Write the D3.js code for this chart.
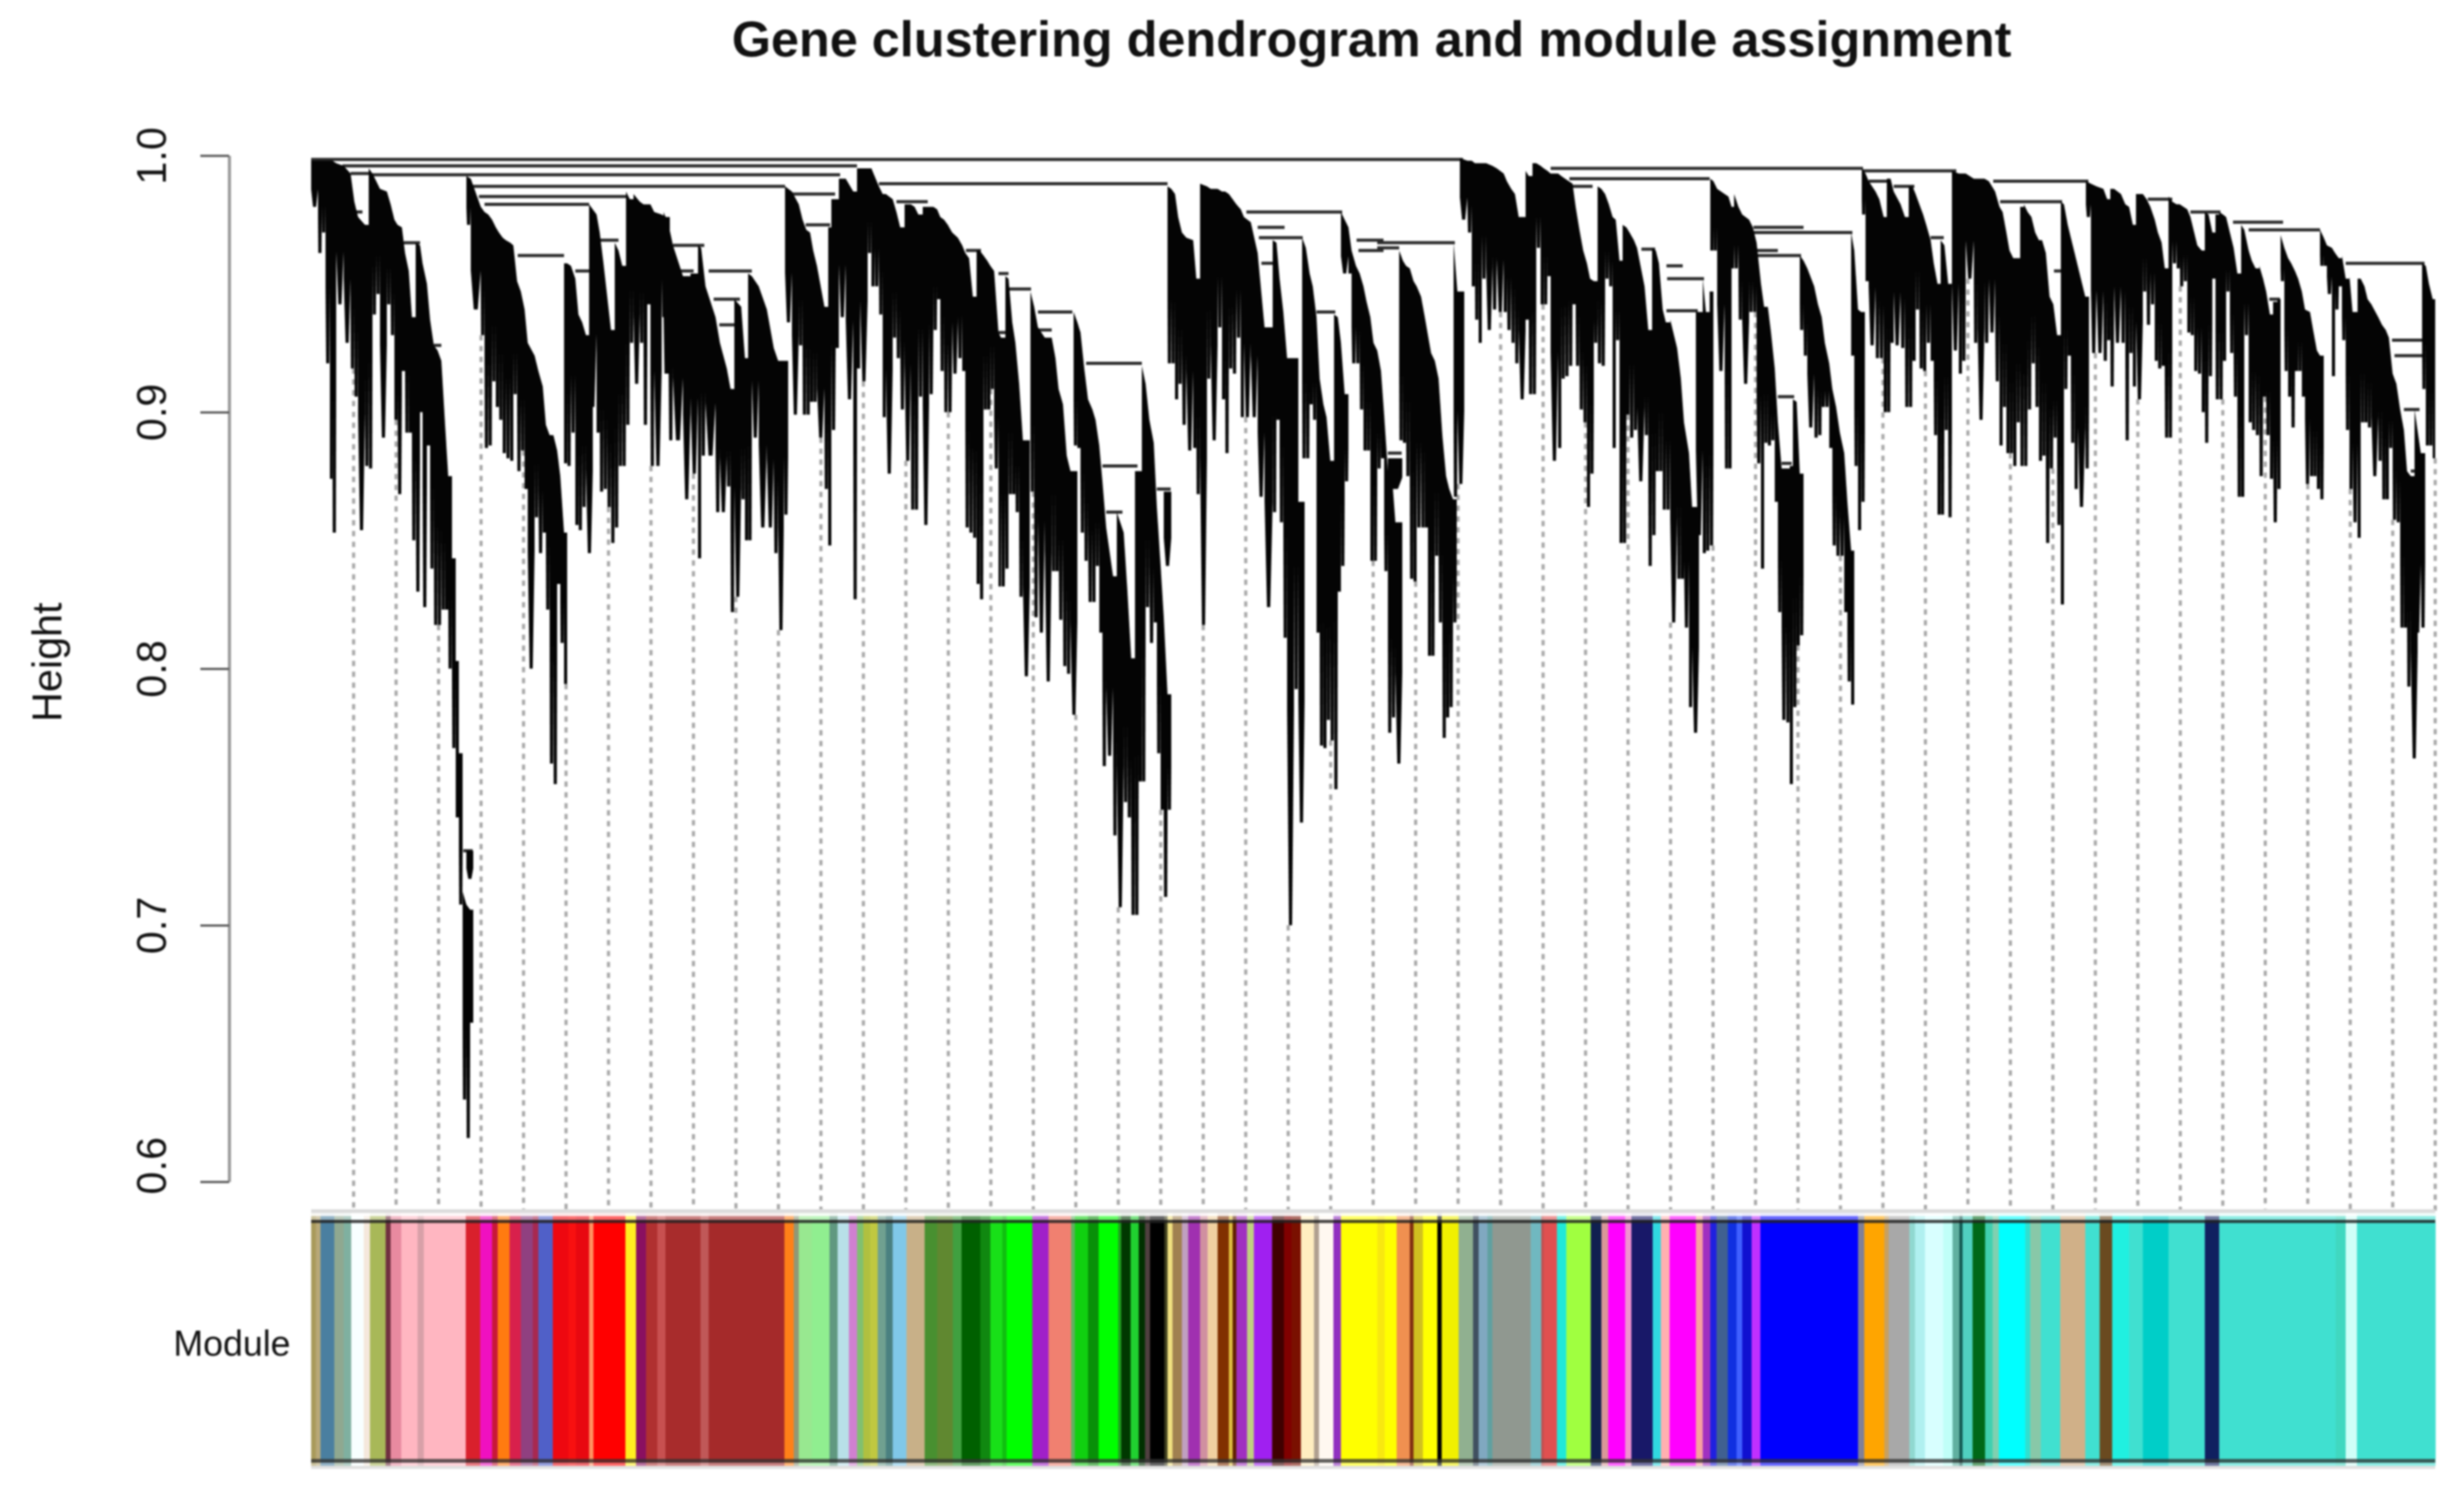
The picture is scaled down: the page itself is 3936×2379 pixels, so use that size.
<!DOCTYPE html>
<html><head><meta charset="utf-8">
<script src="https://cdn.jsdelivr.net/npm/d3@7/dist/d3.min.js"></script>
<style>html,body{margin:0;background:#fff}svg{display:block;filter:blur(1.6px)}text{font-family:"Liberation Sans",Arial,sans-serif;fill:#111}</style>
</head><body><svg id="c" width="3936" height="2379"></svg>
<script>
// Each clade row: [gene rank where the column starts, top height, bottom height]; a one-item row closes the clade.
const cladeA=[[0,.998,.980],[11,.998,.962],[17,.998,.970],[23,.998,.919],[30,.998,.874],[34,.998,.853],[40,.997,.942],[52,.996,.927],[63,.993,.917],[69,.982,.906],[75,.976,.854],[86,.973,.879],[92,.995,.878],[98,.993,.938],[104,.990,.946],[110,.987,.890],[121,.986,.942],[127,.981,.930],[133,.975,.897],[138,.973,.868],[145,.972,.916],[150,.962,.892],[156,.955,.892],[161,.937,.850],[167,.966,.830],[174,.965,.900],[178,.958,.824],[185,.950,.887],[190,.936,.839],[196,.926,.817],[202,.924,.817],[208,.920,.823],[214,.895,.823],[219,.875,.800],[225,.843,.769],[231,.803,.742],[236,.767,.708],[242,.713,.632],[248,.708,.617],[254,.706,.662],[259]];
const cladeA2=[[248,.729,.718],[259]];
const cladeB=[[248,.992,.973],[255,.991,.940],[271,.980,.930],[277,.978,.886],[283,.977,.887],[289,.975,.912],[295,.972,.902],[300,.970,.897],[306,.968,.884],[311,.967,.882],[318,.966,.881],[323,.965,.907],[329,.951,.877],[335,.947,.885],[341,.940,.870],[346,.927,.800],[357,.922,.859],[363,.916,.845],[370,.910,.853],[375,.895,.823],[381,.891,.763],[387,.891,.755],[393,.885,.833],[398,.875,.810],[404,.853,.794],[409]];
const cladeC=[[404,.958,.880],[409,.958,.879],[415,.957,.892],[422,.952,.856],[427,.938,.854],[433,.935,.863],[439,.930,.845],[450]];
const cladeD=[[444,.981,.902],[456,.977,.892],[461,.970,.869],[467,.958,.870],[473,.945,.863],[479,.932,.849],[485,.966,.855],[491,.963,.879],[497,.957,.879],[503,.986,.895],[509,.983,.927],[515,.985,.911],[525,.982,.927],[531,.981,.895],[537,.981,.942],[542,.981,.879],[548,.978,.879],[560,.977,.937],[567,.976,.915],[573]];
const cladeF=[[563,.978,.915],[571,.973,.889],[578,.965,.889],[594,.953,.866],[606,.954,.876],[618,.965,.843],[623,.964,.883],[630,.949,.883],[646,.937,.861],[653,.927,.861],[664,.917,.871],[670,.909,.822],[676,.944,.828],[687,.941,.866],[693,.921,.850],[698,.954,.850],[704,.953,.890],[715,.949,.855],[728,.940,.855],[739,.925,.845],[746,.920,.815],[755,.920,.860],[762]];
const cladeE=[[757,.988,.935],[768,.986,.899],[779,.981,.926],[785,.975,.899],[791,.971,.899],[797,.970,.904],[802,.963,.904],[808,.957,.890],[820,.941,.870],[826,.972,.848],[831,.983,.893],[838,.983,.925],[843,.991,.937],[854,.991,.905],[866,.986,.827],[872,.995,.917],[877,.995,.912],[889,.995,.962],[895,.995,.949],[900,.992,.949],[907,.988,.938],[913,.985,.898],[918,.985,.876],[929,.983,.929],[935,.978,.921],[941,.972,.901],[948,.981,.881],[958,.981,.862],[964,.980,.862],[970,.977,.906],[977,.980,.856],[987,.980,.907],[994,.980,.932],[1000,.979,.944],[1005,.976,.916],[1011,.975,.900],[1017,.973,.900],[1024,.970,.915],[1033,.968,.921],[1040,.965,.916],[1045,.962,.855],[1051,.960,.853],[1057,.945,.851],[1063,.963,.833],[1068,.963,.827],[1074,.961,.901],[1080,.959,.901],[1085,.957,.909],[1091,.955,.878],[1098,.931,.832],[1102,.929,.832],[1109,.953,.839],[1114,.952,.868],[1120,.935,.868],[1125,.927,.861],[1131,.911,.828],[1137,.889,.797],[1148]];
const cladeK=[[1149,.947,.869],[1155,.941,.820],[1161,.933,.814],[1172,.929,.795],[1183,.929,.838],[1189,.921,.838],[1194,.909,.819],[1201,.903,.801],[1207,.883,.798],[1213,.877,.782],[1224]];
const cladeG=[[1218,.939,.887],[1224,.935,.886],[1229,.931,.853],[1235,.917,.842],[1241,.905,.826],[1248,.901,.826],[1253,.897,.840],[1259,.887,.814],[1264,.873,.762],[1270,.855,.766],[1281,.836,.735],[1287,.861,.707],[1298,.853,.748],[1304,.830,.742],[1310,.804,.704],[1316,.877,.704],[1322,.877,.756],[1327,.918,.756],[1333,.911,.824],[1339,.897,.810],[1346,.888,.818],[1351,.863,.767],[1357,.840,.745],[1362,.820,.711],[1368,.790,.745],[1374]];
const cladeG2=[[1362,.869,.840],[1374]];
const cladeH=[[1368,.988,.919],[1374,.987,.919],[1380,.985,.905],[1385,.976,.911],[1391,.970,.895],[1398,.968,.885],[1409,.967,.886],[1414,.952,.868],[1420,.989,.817],[1431,.988,.913],[1437,.987,.889],[1448,.987,.933],[1455,.986,.905],[1460,.986,.884],[1466,.985,.917],[1472,.983,.915],[1478,.981,.929],[1485,.979,.898],[1490,.976,.898],[1501,.974,.898],[1512,.962,.867],[1523,.933,.824],[1536,.967,.861],[1542,.966,.897],[1547,.952,.857],[1553,.939,.812],[1559,.921,.700],[1570,.921,.792],[1577,.865,.740],[1587]];
const cladeI=[[1583,.968,.882],[1589,.964,.882],[1595,.954,.903],[1600,.949,.897],[1606,.937,.814],[1611,.913,.770],[1617,.903,.769],[1622,.898,.780],[1628,.881,.772],[1634,.938,.753],[1640,.937,.830],[1645,.927,.840],[1651,.907,.873],[1657]];
const cladeJ=[[1645,.978,.954],[1657,.972,.954],[1662,.963,.919],[1669,.957,.919],[1675,.954,.901],[1681,.949,.885],[1686,.943,.885],[1692,.937,.842],[1697,.927,.842],[1703,.924,.878],[1709,.916,.882],[1714,.899,.838],[1720,.877,.775],[1726,.877,.781],[1732,.857,.763],[1743]];
const cladeJ2=[[1720,.882,.870],[1743]];
const cladeK2=[[1738,.963,.889],[1744,.959,.888],[1749,.957,.875],[1755,.956,.835],[1761,.951,.834],[1766,.949,.855],[1773,.945,.855],[1779,.937,.855],[1784,.930,.805],[1789,.923,.805],[1795,.920,.844],[1801,.913,.818],[1807,.891,.773],[1813,.875,.781],[1818,.870,.785],[1824,.866,.818],[1830]];
const cladeL=[[1825,.966,.867],[1831,.947,.872],[1842]];
const cladeM=[[1835,.999,.975],[1847,.998,.970],[1854,.998,.949],[1859,.997,.936],[1865,.997,.927],[1870,.997,.952],[1877,.997,.932],[1887,.996,.940],[1894,.995,.939],[1905,.993,.939],[1910,.990,.932],[1917,.987,.927],[1923,.985,.919],[1929,.976,.905],[1940,.994,.936],[1945,.992,.907],[1951,.997,.907],[1957,.997,.964],[1964,.996,.942],[1969,.995,.942],[1975,.994,.953],[1980,.993,.881],[1992,.993,.886],[1997,.992,.913],[2003,.991,.914],[2009,.990,.918],[2015,.989,.942],[2020,.980,.918],[2026,.971,.901],[2032,.963,.896],[2038,.958,.863],[2043,.952,.876],[2049,.951,.927],[2055,.988,.919],[2061,.987,.918],[2067,.985,.952],[2073,.981,.949],[2079,.976,.886],[2084,.975,.928],[2090,.959,.849],[2095,.973,.849],[2101,.972,.899],[2106,.970,.890],[2113,.967,.893],[2118,.964,.873],[2130,.949,.891],[2136,.932,.840],[2142,.964,.852],[2148,.963,.877],[2153,.958,.877],[2159,.940,.862],[2164,.935,.862],[2171,.936,.818],[2182,.925,.835],[2188,.913,.835],[2193,.896,.816],[2201,.884,.785],[2206,.863,.775],[2217]];
const cladeN=[[2212,.939,.852],[2223,.952,.845],[2228,.939,.846],[2234,.947,.848],[2240]];
const cladeO=[[2235,.991,.963],[2240,.990,.963],[2246,.987,.916],[2258,.985,.878],[2264,.984,.878],[2269,.980,.956],[2273,.985,.956],[2280,.980,.936],[2286,.977,.911],[2297,.975,.939],[2303,.972,.939],[2309,.966,.880],[2316,.950,.839],[2321,.941,.888],[2327,.941,.887],[2332,.931,.889],[2338,.917,.865],[2343,.896,.822],[2349,.878,.780],[2356,.878,.779],[2362,.879,.755],[2367,.905,.785],[2373,.904,.809],[2378,.876,.813],[2384]];
const cladeQ=[[2378,.961,.932],[2384,.959,.922],[2390,.956,.894],[2401,.949,.890],[2407,.942,.891],[2413,.937,.902],[2418,.927,.902],[2425,.919,.886],[2430,.909,.848],[2436,.902,.844],[2442,.892,.844],[2449,.884,.822],[2454,.865,.795],[2460,.846,.786],[2465]];
const cladeR=[[2460,.970,.922],[2465,.963,.879],[2471,.940,.854],[2476,.939,.865],[2482]];
const cladeS=[[2477,.995,.977],[2483,.993,.951],[2488,.990,.926],[2499,.986,.921],[2505,.983,.921],[2512,.976,.900],[2517,.991,.900],[2523,.991,.927],[2528,.986,.926],[2539,.981,.925],[2546,.976,.902],[2552,.988,.902],[2558,.988,.920],[2563,.985,.940],[2569,.981,.917],[2575,.977,.916],[2580,.973,.927],[2587,.967,.920],[2592,.958,.891],[2598,.950,.860],[2603,.967,.860],[2609,.965,.893],[2615,.950,.859],[2621,.994,.924],[2632,.993,.915],[2637,.993,.920],[2643,.993,.952],[2656,.991,.927],[2662,.991,.897],[2673,.991,.927],[2680,.990,.931],[2690,.986,.912],[2697,.980,.887],[2702,.978,.902],[2708,.970,.884],[2713,.963,.884],[2719,.960,.879],[2724,.960,.896],[2730,.980,.879],[2736,.981,.879],[2742,.978,.901],[2748,.976,.919],[2754,.970,.902],[2760,.967,.881],[2765,.967,.883],[2771,.962,.849],[2777,.945,.878],[2783,.942,.890],[2789,.930,.856],[2795,.982,.825],[2800,.981,.909],[2806,.973,.922],[2811,.968,.888],[2817,.962,.870],[2822,.957,.863],[2834,.945,.878],[2840]];
const cladeT=[[2835,.990,.976],[2843,.989,.923],[2852,.988,.923],[2863,.987,.920],[2869,.983,.928],[2874,.987,.910],[2880,.987,.927],[2891,.985,.927],[2898,.981,.889],[2904,.980,.923],[2910,.973,.910],[2915,.985,.905],[2926,.985,.947],[2932,.983,.934],[2938,.980,.942],[2945,.975,.920],[2950,.970,.917],[2956,.966,.918],[2961,.956,.890],[2967,.984,.890],[2973,.982,.958],[2980,.981,.956],[2985,.981,.949],[2991,.980,.951],[2997,.979,.931],[3002,.976,.930],[3008,.970,.916],[3013,.965,.915],[3020,.963,.900],[3025,.978,.888],[3031,.977,.914],[3037,.970,.952],[3042,.977,.905],[3048,.978,.905],[3054,.977,.920],[3059,.976,.947],[3065,.970,.923],[3071,.964,.906],[3077,.954,.867],[3083,.973,.867],[3088,.971,.930],[3095,.963,.896],[3100,.959,.893],[3106,.956,.891],[3112,.957,.875],[3118,.952,.906],[3123,.947,.891],[3129,.938,.874],[3134,.943,.857],[3141,.944,.870],[3146]];
const cladeU=[[3146,.969,.951],[3152,.964,.916],[3158,.960,.906],[3163,.958,.894],[3169,.955,.916],[3174,.952,.916],[3180,.947,.906],[3185,.940,.872],[3193,.939,.875],[3198,.932,.875],[3204,.924,.870],[3209,.922,.866],[3215]];
const cladeV=[[3209,.971,.957],[3215,.968,.957],[3220,.965,.946],[3228,.964,.914],[3233,.962,.940],[3239,.960,.949],[3244,.961,.928],[3250,.952,.893],[3256,.953,.870],[3261,.939,.857],[3269,.952,.851],[3274,.952,.896],[3280,.949,.896],[3285,.944,.894],[3291,.942,.875],[3302,.937,.881],[3308,.934,.866],[3314,.932,.866],[3319,.929,.886],[3325,.915,.858],[3331,.911,.857],[3337,.901,.816],[3343,.893,.816],[3348,.877,.793],[3354,.875,.765],[3365]];
const cladeV2=[[3360,.901,.814],[3370,.884,.816],[3377]];
const cladeW=[[3372,.958,.909],[3378,.957,.887],[3383,.950,.887],[3389,.944,.882],[3393]];
const clades=[cladeA,cladeA2,cladeB,cladeC,cladeD,cladeF,cladeE,cladeK,cladeG,cladeG2,cladeH,cladeI,cladeJ,cladeJ2,cladeK2,cladeL,cladeM,cladeN,cladeO,cladeQ,cladeR,cladeS,cladeT,cladeU,cladeV,cladeV2,cladeW];

// Merges: [left rank, right rank, height]
const merges=[[0,1840,.9985],[50,872,.996],[63,92,.993],[98,845,.9925],[255,757,.988],[268,503,.984],[277,444,.981],[330,404,.961],[461,491,.967],[148,174,.966],[196,208,.926],[69,82,.978],[422,444,.955],[243,258,.729],[578,628,.965],[635,704,.955],[589,611,.955],[643,685,.944],[652,681,.934],[790,829,.973],[768,837,.985],[1046,1070,.963],[935,985,.982],[1098,1114,.954],[1114,1150,.948],[1098,1109,.931],[907,1368,.989],[1161,1216,.939],[1238,1327,.919],[1264,1320,.879],[1270,1296,.861],[1351,1373,.870],[1161,1183,.932],[1494,1647,.978],[1514,1584,.968],[1512,1555,.972],[1518,1536,.958],[1606,1636,.939],[1670,1713,.967],[1673,1713,.963],[1703,1827,.966],[1703,1738,.964],[1720,1742,.884],[1980,2479,.995],[2010,2234,.991],[2014,2047,.988],[2166,2225,.952],[2165,2191,.957],[2165,2215,.9395],[2125,2147,.9635],[2477,2628,.994],[2687,2839,.990],[2304,2462,.970],[2304,2384,.972],[2310,2380,.961],[2310,2343,.963],[2343,2369,.906],[2349,2365,.880],[2698,2797,.982],[2587,2608,.968],[2488,2517,.990],[2528,2561,.988],[2784,2800,.955],[2934,2973,.983],[3002,3050,.978],[3070,3150,.974],[3095,3209,.971],[3250,3376,.958],[3324,3376,.928],[3328,3376,.922],[3343,3368,.901],[3354,3365,.877],[3128,3145,.944]];

// Module colour strip: rank where each band starts, and the band's colour
const moduleStarts=[0,7.5,15,37,52,64,84,94,119,127,144,170,180,247,270,289,298,317,335,354,363,386,411,423,444,451,502,519,535,553,566,622,635,756,771,779,800,828,841,859,872,882,893,905,918,929,951,980,1000,1025,1039,1069,1085,1104,1111,1152,1178,1214,1220,1241,1258,1289,1294,1309,1322,1332,1340,1363,1368,1376,1391,1401,1420,1432,1448,1466,1472,1478,1495,1506,1535,1554,1566,1581,1602,1610,1633,1645,1703,1715,1734,1755,1761,1776,1799,1806,1833,1856,1865,1879,1887,1948,1965,1969,1990,2005,2044,2061,2072,2099,2109,2143,2156,2170,2212,2223,2235,2245,2263,2277,2286,2301,2315,2471,2481,2513,2520,2553,2562,2578,2607,2622,2633,2638,2654,2674,2686,2696,2738,2746,2763,2794,2834,2857,2877,2904,2926,2967,3025,3048,3234,3250,3268];
const moduleColors=["#a89a5a","#b8a878","#4a7fa0","#8fa890","#7fb0a0","#f8ffff","#f5e8dc","#a8b858","#703040","#e88aa0","#ffb6c1","#d8a0a8","#ffb6c1","#d9202c","#f010c0","#c81838","#ff7b10","#d8204c","#904080","#a82850","#5060c8","#ee0810","#f81010","#e80810","#ff9060","#ff0000","#ffee20","#8a1060","#b03030","#c85050","#a82c2c","#c05858","#a52a2a","#ff8018","#909878","#98e890","#90ee90","#609880","#b8e0e8","#d080d0","#80c070","#b0c040","#c0c840","#70a090","#4a8080","#80c8e8","#c8b088","#489030","#608830","#40a040","#006000","#108810","#18e018","#10c010","#00ff00","#a020c8","#f08070","#60b060","#10d010","#089008","#00ff00","#20a020","#003800","#20d030","#003000","#504040","#000000","#404020","#f0e080","#a08050","#c0a0c0","#a030b0","#d090a0","#f0d0a0","#803000","#e0c040","#602000","#a030c0","#c0d080","#a020f0","#400000","#800000","#7a1000","#ffeec0","#b0a090","#fff8f0","#9030c0","#ffff00","#f8e810","#ffff00","#f09050","#803010","#d0c020","#ffff00","#000000","#f0f000","#90b090","#405060","#80a8c0","#60a0a0","#909890","#70b8c0","#c05050","#e05050","#20e8d8","#a0ff40","#102050","#d89898","#ff00ff","#f090d0","#181868","#30d8e0","#ffb0b0","#ff00ff","#f8a0a0","#a030c0","#2020e0","#406090","#1030e0","#4060ff","#1010d0","#c030ff","#0000ff","#808098","#ffa500","#c8a060","#a8a8a8","#90d8d0","#b0f0f0","#d8ffff","#c0fff8","#60b0a0","#105850","#50d0c0","#006818","#40d0b0","#80d0b0","#00ffff","#30e0d0","#88c8a8","#40e0d0","#d0b088","#40e0d0","#6a4a20","#20f0e0","#40e0d0","#00cec8","#40e0d0","#102060","#40e0d0","#40d8c0","#d0fff8","#40e0d0"];

const heightTicks=[1.0,0.9,0.8,0.7,0.6];
const guideCount=50;
const geneCount=3393;
const titleText="Gene clustering dendrogram and module assignment";

const svg=d3.select("#c");
const x=d3.scaleLinear().domain([0,geneCount]).range([497,3890]);
const y=d3.scaleLinear().domain([1,0.6]).range([248.5,1888]);

// rows -> columns; a column's top runs down to the next row's top inside a descending wedge
const columns=clades.flatMap(c=>c.slice(0,-1).map((r,i)=>{
  const n=c[i+1];
  const nextTop=(n.length>1&&n[1]<r[1]&&r[1]-n[1]<.03)?n[1]:r[1];
  return {x0:r[0],x1:n[0],top:r[1],topR:nextTop,bottom:r[2]};
}));

// tooth shape: full width down most of the column, then tapering to a narrow tip
const tooth=d=>{
  const a=x(d.x0),b=x(d.x1),w=b-a,m=(a+b)/2,t=y(d.top),tr=y(d.topR),bt=y(d.bottom);
  const sh=Math.max(tr,t)+(bt-Math.max(tr,t))*0.62, tip=Math.min(w,Math.max(w*0.4,5))/2;
  return d3.line()([[a,t],[b,tr],[b,sh],[m+tip,bt],[m-tip,bt],[a,sh]])+"Z";
};

// hanging guides: each starts at the lowest column over its rank
const guideRanks=d3.range(1,guideCount+1).map(i=>i*geneCount/guideCount);
const guides=guideRanks.map(r=>{
  const hit=columns.filter(c=>c.x0<=r&&r<=c.x1);
  return {r,start:hit.length?d3.min(hit,c=>c.bottom):1};
});
svg.append("g").selectAll("line").data(guides).join("line")
  .attr("x1",d=>x(d.r)).attr("x2",d=>x(d.r))
  .attr("y1",d=>y(d.start)).attr("y2",1936)
  .attr("stroke","#a8a8a8").attr("stroke-width",5).attr("stroke-dasharray","8.5 8.8");

svg.append("g").selectAll("line").data(merges).join("line")
  .attr("x1",d=>x(d[0])).attr("x2",d=>x(d[1]))
  .attr("y1",d=>y(d[2])).attr("y2",d=>y(d[2]))
  .attr("stroke","#2a2a2a").attr("stroke-width",5);

svg.append("g").attr("fill","#040404").selectAll("path").data(columns).join("path").attr("d",tooth);

// axis
const ax=svg.append("g").attr("transform","translate(366,0)")
  .call(d3.axisLeft(y).tickValues(heightTicks).tickFormat(d3.format(".1f")).tickSize(46).tickSizeOuter(0));
ax.select(".domain").attr("stroke","#9a9a9a").attr("stroke-width",5);
ax.selectAll(".tick line").attr("stroke","#555").attr("stroke-width",3.5);
ax.selectAll(".tick text").attr("x",0).attr("dy",0).attr("text-anchor","middle")
  .attr("transform",d=>`translate(-101,${d===0.6?-26:0}) rotate(-90)`).attr("font-size",66)
  .style("font-family",'"Liberation Sans",Arial,sans-serif').attr("fill","#222");

svg.append("text").attr("transform","translate(98,1058) rotate(-90)").attr("text-anchor","middle").attr("font-size",66).text("Height");
svg.append("text").attr("x",464).attr("y",2166).attr("text-anchor","end").attr("font-size",57).text("Module");
svg.append("text").attr("x",2191).attr("y",90).attr("text-anchor","middle").attr("font-size",80.5).attr("font-weight","bold").text(titleText);

// module strip
const bands=moduleStarts.map((s,i)=>({s,e:i+1<moduleStarts.length?moduleStarts[i+1]:geneCount,c:moduleColors[i]}));
const strip=svg.append("g");
const layer=(y0,y1,op)=>strip.append("g").attr("opacity",op).selectAll("rect").data(bands).join("rect")
  .attr("x",d=>x(d.s)).attr("width",d=>x(d.e)-x(d.s)+0.6).attr("y",y0).attr("height",y1-y0).attr("fill",d=>d.c);
strip.append("rect").attr("x",x(0)).attr("width",x(geneCount)-x(0)).attr("y",1932).attr("height",6).attr("fill","#dcdcdc");
strip.append("rect").attr("x",x(0)).attr("width",x(geneCount)-x(0)).attr("y",2342).attr("height",5).attr("fill","#e0e0e0");
layer(1938,1943,0.08);
layer(1943,2342,0.6);
layer(1954,2331,1);
strip.append("rect").attr("x",x(0)).attr("width",x(geneCount)-x(0)).attr("y",1949).attr("height",5).attr("fill","#000").attr("opacity",0.72);
strip.append("rect").attr("x",x(0)).attr("width",x(geneCount)-x(0)).attr("y",2331).attr("height",6).attr("fill","#000").attr("opacity",0.62);
</script></body></html>
